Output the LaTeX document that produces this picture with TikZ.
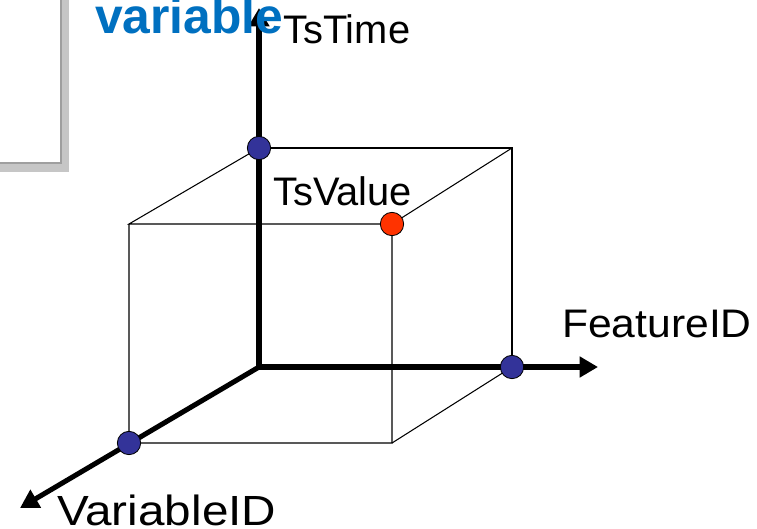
\documentclass[tikz,border=0pt]{standalone}
\usepackage{fontspec}
\setmainfont{Liberation Sans}
\usetikzlibrary{arrows.meta}
\definecolor{dotblue}{RGB}{51,51,153}
\definecolor{dotred}{RGB}{255,51,0}
\definecolor{titleblue}{RGB}{0,112,192}
\tikzset{
  axis/.style={line width=4.3pt,-{Triangle[length=0.55cm,width=0.6cm]}},
  edge/.style={line width=0.9pt},
  dot/.style={circle,draw=black,line width=0.7pt,inner sep=0pt,minimum size=0.7cm},
  lbl/.style={inner sep=0pt,anchor=base west,font=\fontsize{34}{40}\selectfont},
}
\begin{document}
\begin{tikzpicture}[x=0.03cm,y=-0.03cm]
  \useasboundingbox (0,0) rectangle (757,528);

  % Серая рамка слева
  \fill[gray!45] (-5,-5) rectangle (69,172);
  \fill[gray!75] (-5,-5) rectangle (62,164);
  \fill[white] (-5,-5) rectangle (60,162);

  % Вершины куба
  \coordinate (o) at (259,367);
  \coordinate (ptop) at (259,148);
  \coordinate (pfeat) at (512,367);
  \coordinate (pvar) at (129,443);
  \coordinate (pval) at (392,224);
  \coordinate (backtr) at (512,148);
  \coordinate (fronttl) at (129,224);
  \coordinate (frontbr) at (392,443);

  % Концы осей
  \coordinate (ttip) at (259,8);
  \coordinate (ftip) at (598,367);
  \coordinate (vtip) at (20,508);

  % Рёбра куба
  \draw[edge] (ptop) -- (backtr) -- (pfeat);
  \draw[edge] (backtr) -- (pval);
  \draw[edge] (ptop) -- (fronttl) -- (pval) -- (frontbr) -- (pvar) -- (fronttl);
  \draw[edge] (frontbr) -- (pfeat);

  % Оси
  \draw[axis] (o) -- (ttip);
  \draw[axis] (o) -- (ftip);
  \draw[axis] (o) -- (vtip);
  \fill (o) circle (2.1pt);

  % Точки
  \node[dot,fill=dotblue] (top) at (ptop) {};
  \node[dot,fill=dotblue] (feat) at (pfeat) {};
  \node[dot,fill=dotblue] (var) at (pvar) {};
  \node[dot,fill=dotred] (val) at (pval) {};

  % Подписи
  \node[lbl] (tstime) at (283,43) {TsTime};
  \node[lbl] (tsvalue) at (273,205) {TsValue};
  \node[lbl] (featureid) at (562,337) {\scalebox{1.07}[1]{FeatureID}};
  \node[lbl,font=\fontsize{36}{42}\selectfont] (variableid) at (57,525) {\scalebox{1.13}[1]{VariableID}};

  % Заголовок поверх оси
  \node[inner sep=0pt,anchor=base west,text=titleblue,font=\fontsize{42.5}{48}\selectfont\bfseries] (title) at (95,33) {variable};
\end{tikzpicture}
\end{document}
